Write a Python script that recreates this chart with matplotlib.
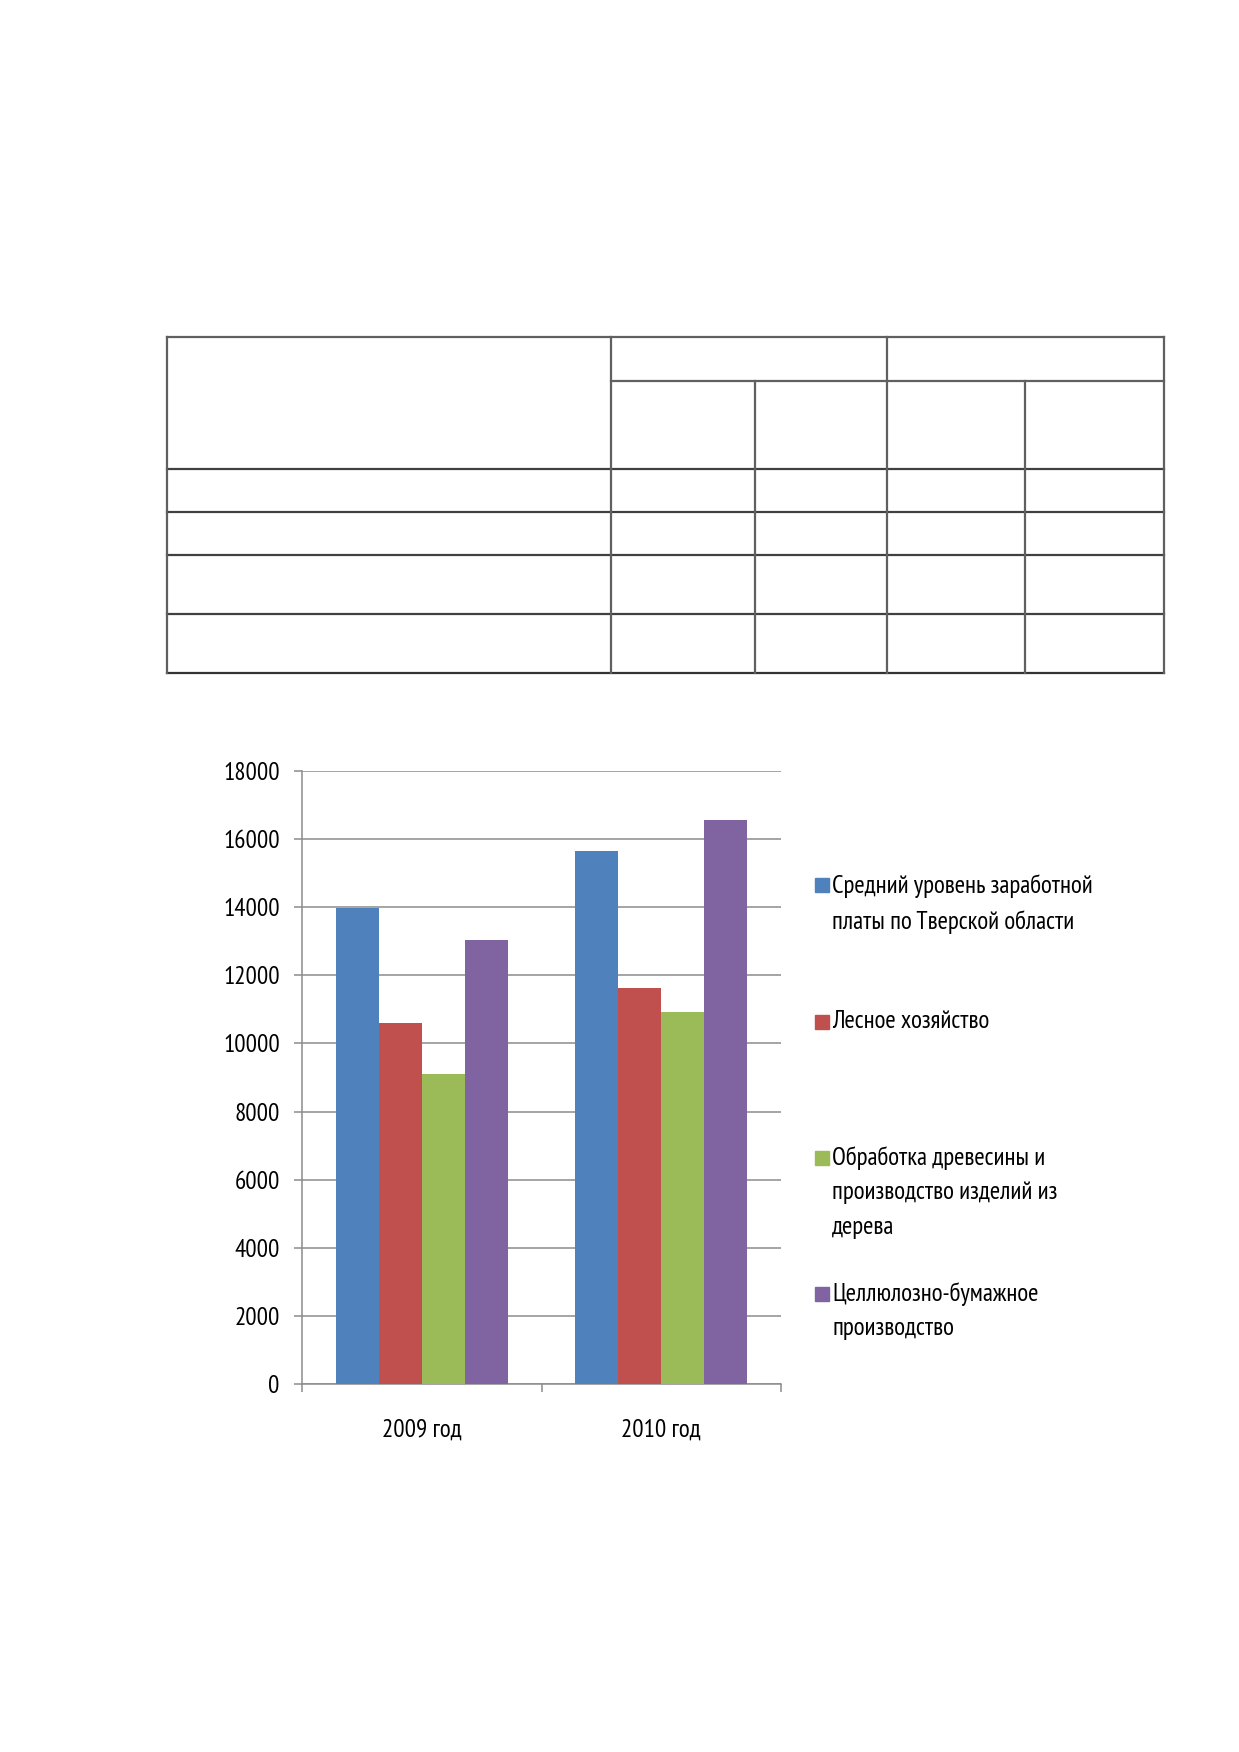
import matplotlib
matplotlib.use("Agg")
import matplotlib.pyplot as plt
from matplotlib.patches import Rectangle
import numpy as np

categories = ["2009 год", "2010 год"]
series_names = [
    "Средний уровень заработной\nплаты по Тверской области",
    "Лесное хозяйство",
    "Обработка древесины и\nпроизводство изделий из\nдерева",
    "Целлюлозно-бумажное\nпроизводство",
]
avg_wage = [13990, 15650]
forestry = [10590, 11620]
wood = [9090, 10910]
pulp = [13040, 16570]
series_values = [avg_wage, forestry, wood, pulp]
colors = ["#4F81BD", "#C0504D", "#9BBB59", "#8064A2"]
yticks = [0, 2000, 4000, 6000, 8000, 10000, 12000, 14000, 16000, 18000]

plt.rcParams['font.family'] = ['PT Sans Narrow', 'DejaVu Sans']

W, H = 1239, 1752
fig = plt.figure(figsize=(W / 100, H / 100), dpi=100)

def fx(px):
    return px / W

def fy(py):
    return 1 - py / H

# ---- empty table drawn in pixel coords
tab = fig.add_axes([0, 0, 1, 1])
tab.set_xlim(0, W)
tab.set_ylim(H, 0)
tab.axis("off")
lc = "#606060"
lw = 1.6
L, R, T, B = 167, 1164, 337, 673
c1, c2, c3, c4 = 611, 755, 887, 1025
rows = [469, 512, 555, 614]
tab.plot([L, R], [T, T], color=lc, lw=lw)
tab.plot([L, R], [B, B], color="#333333", lw=lw)
tab.plot([c1, R], [381, 381], color=lc, lw=lw)
for r in rows:
    tab.plot([L, R], [r, r], color="#404040", lw=lw)
tab.plot([L, L], [T, B], color=lc, lw=lw)
tab.plot([R, R], [T, B], color=lc, lw=lw)
tab.plot([c1, c1], [T, B], color=lc, lw=lw)
tab.plot([c3, c3], [T, B], color=lc, lw=lw)
tab.plot([c2, c2], [381, B], color=lc, lw=lw)
tab.plot([c4, c4], [381, B], color=lc, lw=lw)

# ---- chart
ax_l, ax_r, ax_t, ax_b = 302, 781, 771, 1384
ax = fig.add_axes([fx(ax_l), fy(ax_b), fx(ax_r - ax_l), (ax_b - ax_t) / H])
x = np.arange(len(categories))
bw = 0.18
offsets = [-1.5 * bw, -0.5 * bw, 0.5 * bw, 1.5 * bw]
for vals, off, col, name in zip(series_values, offsets, colors, series_names):
    ax.bar(x + off, vals, width=bw, color=col, label=name, zorder=3)

ax.set_xlim(-0.5, len(categories) - 0.5)
ax.set_ylim(0, 18000)
ax.set_yticks(yticks)
ax.set_yticklabels([str(v) for v in yticks])
gc = "#8C8C8C"
ax.yaxis.grid(True, color=gc, lw=1.1, zorder=0)
ax.set_axisbelow(True)
for s in ["top", "right"]:
    ax.spines[s].set_visible(False)
ax.spines["left"].set_color(gc)
ax.spines["bottom"].set_color(gc)
ax.spines["left"].set_linewidth(1.1)
ax.spines["bottom"].set_linewidth(1.1)
ax.tick_params(axis="y", length=6, color=gc, width=1.1, pad=10, labelsize=18)
ax.set_xticks(np.arange(-0.5, len(categories), 1.0))
ax.set_xticklabels([])
ax.tick_params(axis="x", which="major", length=6, color=gc, width=1.1)
ax.set_xticks(x, minor=True)
ax.set_xticklabels(categories, minor=True)
ax.tick_params(axis="x", which="minor", length=0, pad=25, labelsize=18)

# ---- legend (manual, evenly spaced like the original)
tops = [888, 1024, 1160, 1296]
for name, col, yc in zip(series_names, colors, tops):
    fig.patches.append(Rectangle((fx(815), fy(yc + 4.5)), fx(14), 14 / H,
                                 transform=fig.transFigure, color=col, figure=fig))
    fig.text(fx(832), fy(yc - 14), name, fontsize=18, va="top", ha="left",
             linespacing=1.65)

fig.savefig("out.png", dpi=100)
